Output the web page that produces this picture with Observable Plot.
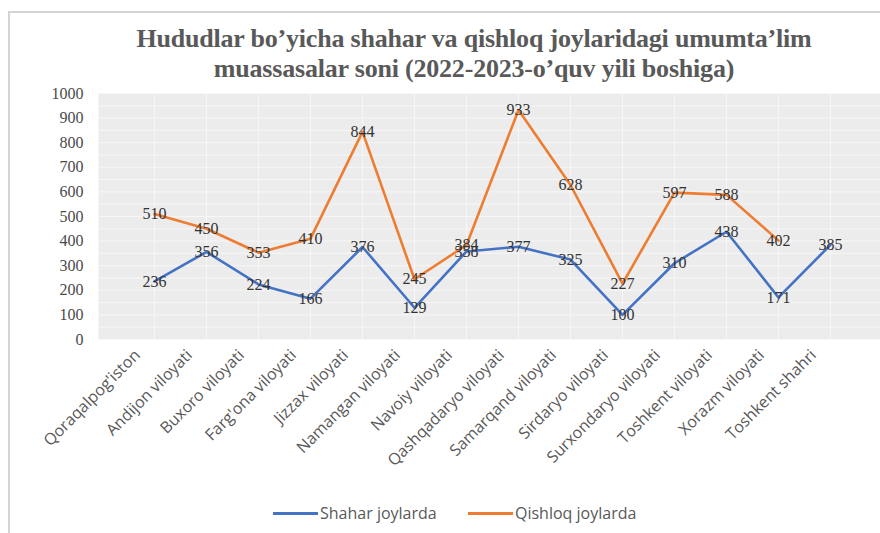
<!DOCTYPE html>
<html><head><meta charset="utf-8">
<script src="https://cdn.jsdelivr.net/npm/d3@7"></script>
<script src="https://cdn.jsdelivr.net/npm/@observablehq/plot@0.6"></script>
<style>
body{margin:0;background:#fff;}
#wrap{position:relative;width:880px;height:533px;overflow:hidden;background:#fff;}
.bl{position:absolute;left:8px;top:11px;width:2px;height:540px;background:#d4d4d4;}
.bt{position:absolute;left:8px;top:11px;width:880px;height:2px;background:#d4d4d4;}
#title{position:absolute;left:0;top:24px;width:948px;text-align:center;font-family:"Liberation Serif",serif;font-weight:bold;font-size:26px;line-height:30px;color:#595959;letter-spacing:-0.2px;}
#chart{position:absolute;left:0;top:80px;}
#legend{position:absolute;top:502px;left:0;width:880px;font-family:"Open Sans","Liberation Sans",sans-serif;font-size:16px;color:#595959;}
.li{position:absolute;display:flex;align-items:center;white-space:nowrap;}
.sw{display:inline-block;width:45px;height:3px;margin-right:2px;}
</style></head>
<body><div id="wrap">
<div class="bl"></div><div class="bt"></div>
<div id="title">Hududlar bo’yicha shahar va qishloq joylaridagi umumta’lim<br>muassasalar soni (2022-2023-o’quv yili boshiga)</div>
<div id="chart"></div>
<div id="legend"></div>
</div>
<script>
const regions = ["Qoraqalpog'iston","Andijon viloyati","Buxoro viloyati","Farg'ona viloyati","Jizzax viloyati","Namangan viloyati","Navoiy viloyati","Qashqadaryo viloyati","Samarqand viloyati","Sirdaryo viloyati","Surxondaryo viloyati","Toshkent viloyati","Xorazm viloyati","Toshkent shahri"];
const shahar = [236,356,224,166,376,129,358,377,325,100,310,438,171,385];
const qishloq = [510,450,353,410,844,245,384,933,628,227,597,588,402,null];
const seriesNames = ["Shahar joylarda","Qishloq joylarda"];
const seriesColors = ["#4472C4","#ED7D31"];
const yTicks = [0,100,200,300,400,500,600,700,800,900,1000];
const yGrid = [0,50,100,150,200,250,300,350,400,450,500,550,600,650,700,750,800,850,900,950,1000];

const rows = regions.flatMap((r,i)=>[
  {region:r, series:seriesNames[0], value:shahar[i]},
  {region:r, series:seriesNames[1], value:qishloq[i]}
]);

const plot = Plot.plot({
  width: 880, height: 420,
  marginTop: 13, marginLeft: 98, marginRight: 0, marginBottom: 161,
  x: {type:"point", domain: regions, range:[127,856], label:null},
  y: {domain:[0,1000], label:null},
  color: {domain: seriesNames, range: seriesColors},
  style: {background:"transparent", overflow:"visible"},
  marks: [
    Plot.frame({fill:"#ececec", stroke:null}),
    Plot.gridY(yGrid, {stroke:"#f7f7f7", strokeOpacity:1, strokeWidth:1}),
    Plot.gridX(regions, {stroke:"#f7f7f7", strokeOpacity:1, strokeWidth:1}),
    Plot.axisY(yTicks, {tickSize:0, tickPadding:15, fontSize:16, fontFamily:"Liberation Serif", fill:"#4a4a4a", tickFormat:d=>String(d), label:null}),
    Plot.axisX({tickSize:0, tickPadding:8, tickRotate:-45, fontSize:16, fontFamily:"Open Sans", fill:"#595959", dx:-17, dy:5, label:null}),
    Plot.line(rows, {x:"region", y:"value", z:"series", stroke:"series", strokeWidth:2.6}),
    Plot.text(rows.filter(d=>d.value!=null), {x:"region", y:"value", text:d=>String(d.value), fontSize:16, fontFamily:"Liberation Serif", fill:"#333"})
  ]
});
document.getElementById("chart").appendChild(plot);

const leg = document.getElementById("legend");
const legX = [273, 468];
seriesNames.forEach((s,i)=>{
  const d = document.createElement("div");
  d.className = "li";
  d.style.left = legX[i] + "px";
  d.innerHTML = `<span class="sw" style="background:${seriesColors[i]}"></span><span>${s}</span>`;
  leg.appendChild(d);
});
</script>
</body></html>
